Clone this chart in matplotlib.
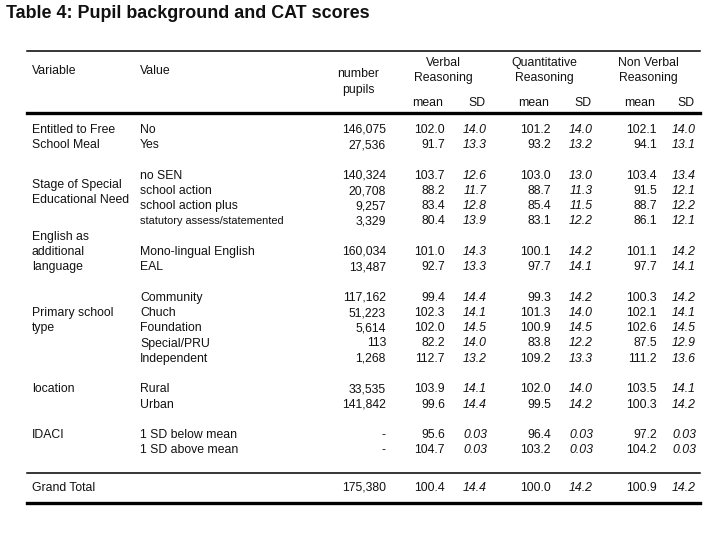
import matplotlib

matplotlib.use("Agg")
import matplotlib.pyplot as plt

# %% Data
variables = [
    ("Entitled to Free", 0), ("School Meal", 1),
    ("Stage of Special", 3.6), ("Educational Need", 4.6),
    ("English as", 7), ("additional", 8), ("language", 9),
    ("Primary school", 12), ("type", 13),
    ("location", 17), ("IDACI", 20),
]
row_slots = [0, 1, 3, 4, 5, 6, 8, 9, 11, 12, 13, 14, 15, 17, 18, 20, 21]
values = [
    "No", "Yes",
    "no SEN", "school action", "school action plus", "statutory assess/statemented",
    "Mono-lingual English", "EAL",
    "Community", "Chuch", "Foundation", "Special/PRU", "Independent",
    "Rural", "Urban",
    "1 SD below mean", "1 SD above mean",
]
n_pupils = ["146,075", "27,536", "140,324", "20,708", "9,257", "3,329",
            "160,034", "13,487", "117,162", "51,223", "5,614", "113", "1,268",
            "33,535", "141,842", "-", "-"]
verbal_mean = [102.0, 91.7, 103.7, 88.2, 83.4, 80.4, 101.0, 92.7,
               99.4, 102.3, 102.0, 82.2, 112.7, 103.9, 99.6, 95.6, 104.7]
verbal_sd = ["14.0", "13.3", "12.6", "11.7", "12.8", "13.9", "14.3", "13.3",
             "14.4", "14.1", "14.5", "14.0", "13.2", "14.1", "14.4", "0.03", "0.03"]
quant_mean = [101.2, 93.2, 103.0, 88.7, 85.4, 83.1, 100.1, 97.7,
              99.3, 101.3, 100.9, 83.8, 109.2, 102.0, 99.5, 96.4, 103.2]
quant_sd = ["14.0", "13.2", "13.0", "11.3", "11.5", "12.2", "14.2", "14.1",
            "14.2", "14.0", "14.5", "12.2", "13.3", "14.0", "14.2", "0.03", "0.03"]
nv_mean = [102.1, 94.1, 103.4, 91.5, 88.7, 86.1, 101.1, 97.7,
           100.3, 102.1, 102.6, 87.5, 111.2, 103.5, 100.3, 97.2, 104.2]
nv_sd = ["14.0", "13.1", "13.4", "12.1", "12.2", "12.1", "14.2", "14.1",
         "14.2", "14.1", "14.5", "12.9", "13.6", "14.1", "14.2", "0.03", "0.03"]
total = ("Grand Total", "175,380", 100.4, "14.4", 100.0, "14.2", 100.9, "14.2")

score_groups = [("Verbal", "Reasoning", 443), ("Quantitative", "Reasoning", 544),
                ("Non Verbal", "Reasoning", 648)]

# %% Layout (pixel coordinates)
W, H = 709, 550
FONT = "Liberation Sans"
FS = 8.8
Y0, DY = 130, 15.25
X_VAR, X_VAL, X_N = 32, 140, 386
MEAN_X = [445, 551, 657]
SD_X = [487, 593, 696]

fig = plt.figure(figsize=(W / 100, H / 100), dpi=100)
ax = fig.add_axes([0, 0, 1, 1])
ax.set_xlim(0, W)
ax.set_ylim(H, 0)
ax.axis("off")


def txt(x, y, s, ha="left", style="normal", size=FS):
    ax.text(x, y, s, ha=ha, va="center", fontsize=size, family=FONT,
            style=style, color="#111111")


ax.text(6, 14, "Table 4: Pupil background and CAT scores", ha="left", va="center",
        fontsize=12.9, family=FONT, weight="bold", color="#111111")

# rules
ax.plot([27, 700], [50.5, 50.5], color="black", lw=1.1)
ax.plot([27, 700], [113, 113], color="black", lw=2.4)
ax.plot([27, 700], [473, 473], color="black", lw=1.1)
ax.plot([27, 700], [503, 503], color="black", lw=2.4)

# header
txt(X_VAR, 71, "Variable")
txt(X_VAL, 71, "Value")
txt(358, 74, "number", ha="center")
txt(358, 89.5, "pupils", ha="center")
for (top, bottom, cx), mx, sx in zip(score_groups, MEAN_X, SD_X):
    txt(cx, 63, top, ha="center")
    txt(cx, 78, bottom, ha="center")
    txt(mx - 17, 102.5, "mean", ha="center")
    txt(sx - 10, 102.5, "SD", ha="center")

for label, slot in variables:
    txt(X_VAR, Y0 + DY * slot, label)

for i, slot in enumerate(row_slots):
    y = Y0 + DY * slot
    v = values[i]
    txt(X_VAL, y, v, size=7.9 if len(v) > 22 else FS)
    txt(X_N, y, n_pupils[i], ha="right")
    for mx, sx, m, s in zip(MEAN_X, SD_X, (verbal_mean, quant_mean, nv_mean),
                            (verbal_sd, quant_sd, nv_sd)):
        txt(mx, y, f"{m[i]:.1f}", ha="right")
        txt(sx, y, s[i], ha="right", style="italic")

yt = 488
txt(X_VAR, yt, total[0])
txt(X_N, yt, total[1], ha="right")
for k, (mx, sx) in enumerate(zip(MEAN_X, SD_X)):
    txt(mx, yt, f"{total[2 + 2 * k]:.1f}", ha="right")
    txt(sx, yt, total[3 + 2 * k], ha="right", style="italic")

fig.savefig("out.png", dpi=100)
